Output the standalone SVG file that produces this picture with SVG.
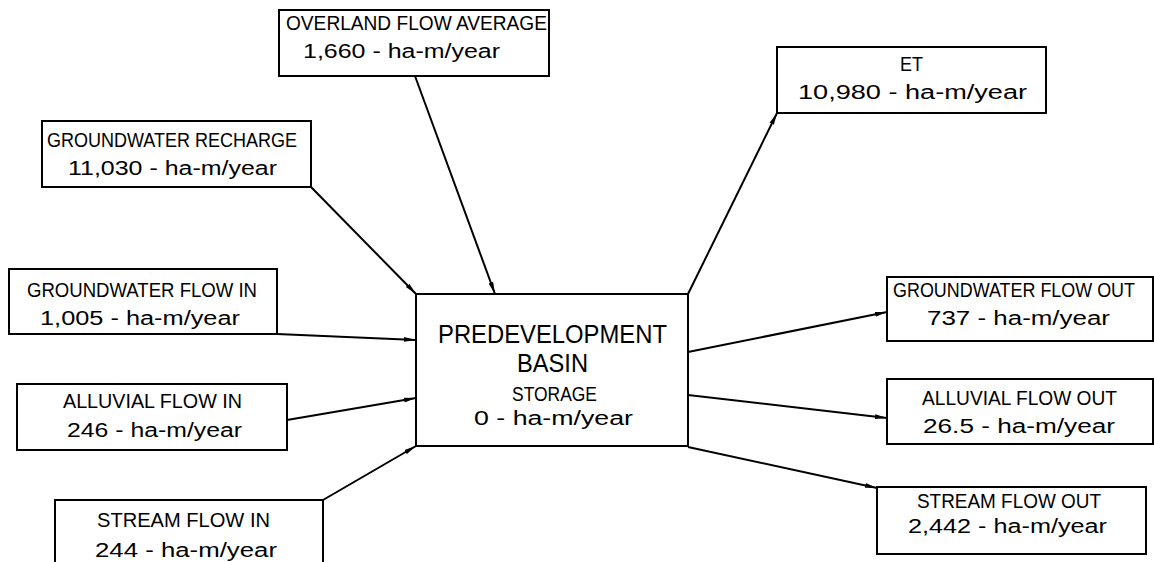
<svg xmlns="http://www.w3.org/2000/svg" width="1154" height="562" viewBox="0 0 1154 562">
<defs>
<marker id="ah" markerUnits="userSpaceOnUse" markerWidth="12" markerHeight="6" refX="12" refY="3" orient="auto">
<path d="M0,0.6 L12,3 L0,5.4 z" fill="#000"/>
</marker>
<style>
.box{fill:#fff;stroke:#000;stroke-width:2}
.t{font-family:"Liberation Sans",Arial,sans-serif;font-size:20px;fill:#000}
.v{font-family:"Liberation Sans",Arial,sans-serif;font-size:20px;fill:#000}
.big{font-family:"Liberation Sans",Arial,sans-serif;font-size:25px;fill:#000}
.c{stroke:#000;stroke-width:2;fill:none;marker-end:url(#ah)}
</style>
</defs>
<rect width="1154" height="562" fill="#fff"/>
<g id="connectors">
<line class="c" x1="415" y1="76" x2="495" y2="294"/>
<line class="c" x1="311" y1="187" x2="416" y2="294"/>
<line class="c" x1="277" y1="334" x2="416" y2="340"/>
<line class="c" x1="287" y1="420" x2="416" y2="398"/>
<line class="c" x1="323" y1="500" x2="416" y2="446"/>
<line class="c" x1="688" y1="294" x2="777" y2="113"/>
<line class="c" x1="688" y1="352" x2="887" y2="312"/>
<line class="c" x1="688" y1="395" x2="887" y2="418"/>
<line class="c" x1="688" y1="447" x2="877" y2="488"/>
</g>
<g id="overland">
<rect class="box" x="279" y="10" width="270" height="66"/>
<text class="t" x="286" y="30" textLength="261" lengthAdjust="spacingAndGlyphs">OVERLAND FLOW AVERAGE</text>
<text class="v" x="303" y="58" textLength="197" lengthAdjust="spacingAndGlyphs">1,660 - ha-m/year</text>
</g>
<g id="recharge">
<rect class="box" x="42" y="121" width="269" height="66"/>
<text class="t" x="47" y="147" textLength="250" lengthAdjust="spacingAndGlyphs">GROUNDWATER RECHARGE</text>
<text class="v" x="68" y="175" textLength="209" lengthAdjust="spacingAndGlyphs">11,030 - ha-m/year</text>
</g>
<g id="gw-in">
<rect class="box" x="9" y="269" width="268" height="65"/>
<text class="t" x="27" y="297" textLength="230" lengthAdjust="spacingAndGlyphs">GROUNDWATER FLOW IN</text>
<text class="v" x="40" y="325" textLength="200" lengthAdjust="spacingAndGlyphs">1,005 - ha-m/year</text>
</g>
<g id="alluvial-in">
<rect class="box" x="17" y="384" width="270" height="66"/>
<text class="t" x="63" y="408" textLength="179" lengthAdjust="spacingAndGlyphs">ALLUVIAL FLOW IN</text>
<text class="v" x="67" y="437" textLength="175" lengthAdjust="spacingAndGlyphs">246 - ha-m/year</text>
</g>
<g id="stream-in">
<rect class="box" x="55" y="500" width="268" height="72"/>
<text class="t" x="97" y="527" textLength="173" lengthAdjust="spacingAndGlyphs">STREAM FLOW IN</text>
<text class="v" x="95" y="557" textLength="182" lengthAdjust="spacingAndGlyphs">244 - ha-m/year</text>
</g>
<g id="basin">
<rect class="box" x="416" y="294" width="272" height="152"/>
<text class="big" x="438" y="343" textLength="229" lengthAdjust="spacingAndGlyphs">PREDEVELOPMENT</text>
<text class="big" x="517" y="372" textLength="71" lengthAdjust="spacingAndGlyphs">BASIN</text>
<text class="t" x="512" y="401" textLength="85" lengthAdjust="spacingAndGlyphs">STORAGE</text>
<text class="v" x="474" y="425" textLength="159" lengthAdjust="spacingAndGlyphs">0 - ha-m/year</text>
</g>
<g id="et">
<rect class="box" x="777" y="47" width="269" height="66"/>
<text class="t" x="900" y="71" textLength="23" lengthAdjust="spacingAndGlyphs">ET</text>
<text class="v" x="798" y="99" textLength="229" lengthAdjust="spacingAndGlyphs">10,980 - ha-m/year</text>
</g>
<g id="gw-out">
<rect class="box" x="887" y="277" width="266" height="64"/>
<text class="t" x="893" y="297" textLength="242" lengthAdjust="spacingAndGlyphs">GROUNDWATER FLOW OUT</text>
<text class="v" x="927" y="325" textLength="183" lengthAdjust="spacingAndGlyphs">737 - ha-m/year</text>
</g>
<g id="alluvial-out">
<rect class="box" x="887" y="379" width="266" height="65"/>
<text class="t" x="922" y="405" textLength="195" lengthAdjust="spacingAndGlyphs">ALLUVIAL FLOW OUT</text>
<text class="v" x="923" y="433" textLength="192" lengthAdjust="spacingAndGlyphs">26.5 - ha-m/year</text>
</g>
<g id="stream-out">
<rect class="box" x="877" y="487" width="269" height="67"/>
<text class="t" x="917" y="508" textLength="184" lengthAdjust="spacingAndGlyphs">STREAM FLOW OUT</text>
<text class="v" x="908" y="533" textLength="199" lengthAdjust="spacingAndGlyphs">2,442 - ha-m/year</text>
</g>
</svg>
